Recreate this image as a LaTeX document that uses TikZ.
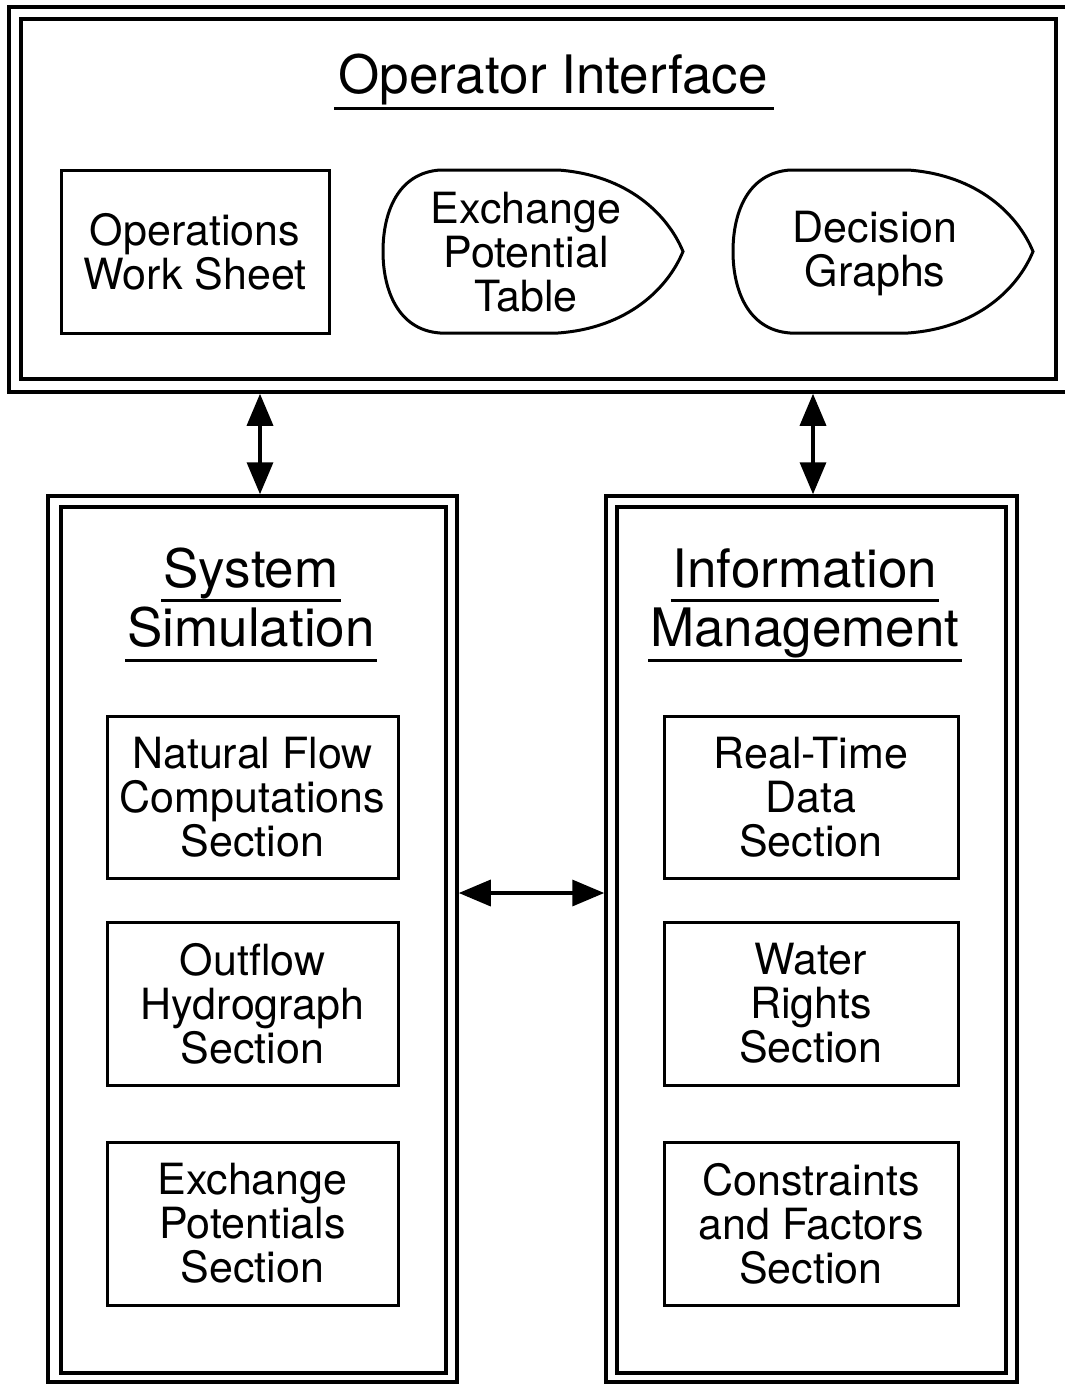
\documentclass[tikz,border=0pt]{standalone}
\usepackage{fontspec}
\setmainfont{TeX Gyre Heros}
\usetikzlibrary{arrows.meta}
\tikzset{
  frame/.style={draw, line width=3.5pt, rectangle, inner sep=0pt},
  secbox/.style={draw, line width=3pt, rectangle, inner sep=0pt, align=center,
    font=\fontsize{43}{44}\selectfont},
  boxtext/.style={inner sep=0pt, align=center, font=\fontsize{43}{44}\selectfont},
  ttl/.style={inner sep=0pt, anchor=base, font=\fontsize{53}{60}\selectfont},
  ul/.style={line width=3pt},
  arr/.style={line width=3.5pt, {Triangle[length=32pt,width=26pt]}-{Triangle[length=32pt,width=26pt]}},
  display/.pic={
    \draw[line width=3pt] (57,0) -- (175,0)
      .. controls (245,5) and (285,45) .. (300,81.5)
      .. controls (285,118) and (245,158) .. (175,163)
      -- (57,163)
      .. controls (15,160) and (0,120) .. (0,81.5)
      .. controls (0,42) and (15,3) .. (57,0) -- cycle;
  }
}
\begin{document}
\begin{tikzpicture}[x=1pt,y=-1pt]
\useasboundingbox (0,0) rectangle (1065,1384);
\begin{scope}
\clip (0,0) rectangle (1065,1384);
% Operator interface frame
\node[frame, minimum width=1060pt, minimum height=385pt] (oiout) at (539,199.5) {};
\node[frame, minimum width=1035pt, minimum height=360pt] (oiin) at (538.5,199) {};
\end{scope}
\node[ttl] (oit) at (553,93) {Operator Interface};
\draw[ul] ([xshift=-4pt,yshift=-15pt]oit.base west) -- ([xshift=6pt,yshift=-15pt]oit.base east);

\node[secbox, minimum width=268pt, minimum height=163pt] (ows) at (195,251.5) {Operations\\Work Sheet};
\pic at (383,170) {display};
\node[boxtext] (ept) at (526,252) {Exchange\\Potential\\Table};
\pic at (733,170) {display};
\node[boxtext] (dg) at (875,254) {Decision\\Graphs};

% System simulation panel
\node[frame, minimum width=409pt, minimum height=886pt] (ssout) at (252.5,939) {};
\node[frame, minimum width=385pt, minimum height=866pt] (ssin) at (253.5,940) {};
\node[ttl] (sys1) at (251,587) {System};
\node[ttl] (sys2) at (251,646) {Simulation};
\draw[ul] ([xshift=-2pt,yshift=-13pt]sys1.base west) -- ([xshift=2pt,yshift=-13pt]sys1.base east);
\draw[ul] ([xshift=-2pt,yshift=-14pt]sys2.base west) -- ([xshift=2pt,yshift=-14pt]sys2.base east);

\node[secbox, minimum width=291pt, minimum height=162pt] (nfc) at (252.5,797) {Natural Flow\\Computations\\Section};
\node[secbox, minimum width=291pt, minimum height=163pt] (ohs) at (252.5,1003.5) {Outflow\\Hydrograph\\Section};
\node[secbox, minimum width=291pt, minimum height=163pt] (eps) at (252.5,1223.5) {Exchange\\Potentials\\Section};

% Information management panel
\node[frame, minimum width=411pt, minimum height=886pt] (imout) at (811.5,939) {};
\node[frame, minimum width=389pt, minimum height=866pt] (imin) at (811.5,940) {};
\node[ttl] (inf1) at (805,587) {Information};
\node[ttl] (inf2) at (805,646) {Management};
\draw[ul] ([xshift=-2pt,yshift=-13pt]inf1.base west) -- ([xshift=2pt,yshift=-13pt]inf1.base east);
\draw[ul] ([xshift=-2pt,yshift=-14pt]inf2.base west) -- ([xshift=2pt,yshift=-14pt]inf2.base east);

\node[secbox, minimum width=294pt, minimum height=162pt] (rtd) at (811,797) {Real-Time\\Data\\Section};
\node[secbox, minimum width=294pt, minimum height=163pt] (wrs) at (811,1003.5) {Water\\Rights\\Section};
\node[secbox, minimum width=294pt, minimum height=163pt] (cfs) at (811,1223.5) {Constraints\\and Factors\\Section};

% connectors
\coordinate (ax1) at (260,0);
\coordinate (ax2) at (813,0);
\coordinate (ay) at (0,893);
\draw[arr] (oiout.south -| ax1) -- (ssout.north -| ax1);
\draw[arr] (oiout.south -| ax2) -- (imout.north -| ax2);
\draw[arr] (ssout.east |- ay) -- (imout.west |- ay);
\end{tikzpicture}
\end{document}
